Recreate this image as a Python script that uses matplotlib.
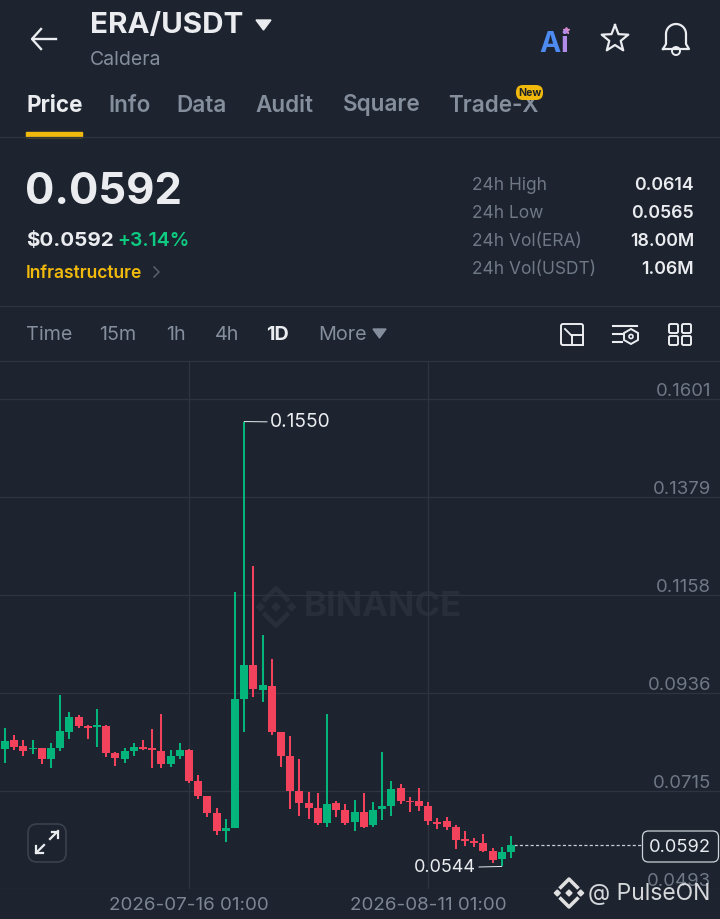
import numpy as np
import matplotlib
matplotlib.use("Agg")
import matplotlib.pyplot as plt
from matplotlib.patches import FancyBboxPatch, Polygon, Rectangle, Circle

plt.rcParams["font.family"] = ["Inter", "DejaVu Sans"]

# daily candles
opens = [.0809, .0830, .0817, .0809, .0812, .0787, .0812, .0848, .0883, .0861,
         .0860, .0861, .0801, .0788, .0806, .0814, .0812, .0805, .0776, .0794,
         .0808, .0738, .0704, .0665, .0625, .0632, .0923, .1000, .0943, .0953,
         .0847, .0794, .0714, .0688, .0677, .0642, .0687, .0672, .0644, .0667,
         .0637, .0674, .0681, .0721, .0692, .0691, .0680, .0644, .0646, .0634,
         .0606, .0602, .0597, .0580, .0561, .0576]
highs = [.0857, .0842, .0830, .0829, .0812, .0823, .0932, .0893, .0887, .0864,
         .0900, .0864, .0802, .0811, .0824, .0830, .0854, .0889, .0808, .0824,
         .0809, .0750, .0704, .0676, .0652, .1165, .1550, .1224, .1068, .1013,
         .0848, .0838, .0787, .0712, .0710, .0888, .0692, .0685, .0695, .0711,
         .0689, .0802, .0738, .0731, .0701, .0722, .0689, .0653, .0656, .0637,
         .0625, .0609, .0618, .0586, .0588, .0613]
lows = [.0779, .0808, .0794, .0798, .0776, .0767, .0804, .0833, .0857, .0832,
        .0815, .0792, .0772, .0779, .0793, .0807, .0766, .0766, .0770, .0787,
        .0732, .0696, .0656, .0615, .0600, .0631, .0847, .0928, .0915, .0841,
        .0770, .0674, .0659, .0651, .0637, .0634, .0656, .0638, .0625, .0631,
        .0634, .0649, .0659, .0686, .0666, .0670, .0638, .0629, .0627, .0584,
        .0591, .0589, .0576, .0552, .0544, .0564]
closes = [.0827, .0814, .0806, .0812, .0787, .0812, .0850, .0882, .0862, .0858,
          .0863, .0801, .0789, .0805, .0814, .0810, .0808, .0776, .0794, .0808,
          .0738, .0704, .0665, .0625, .0631, .0923, .1000, .0945, .0955, .0847,
          .0793, .0714, .0687, .0677, .0642, .0686, .0672, .0643, .0667, .0634,
          .0672, .0681, .0720, .0692, .0689, .0680, .0646, .0640, .0634, .0604,
          .0601, .0597, .0580, .0559, .0576, .0592]

price_ticks = [0.1601, 0.1379, 0.1158, 0.0936, 0.0715, 0.0493]
date_ticks = [20, 46]
date_labels = ["2026-07-16 01:00", "2026-08-11 01:00"]
tabs = ["Price", "Info", "Data", "Audit", "Square", "Trade-X"]
tab_x = [26, 108, 176, 255, 343, 448]
intervals = ["Time", "15m", "1h", "4h", "1D", "More"]
interval_x = [26, 99, 166, 215, 266, 318]
stat_names = ["24h High", "24h Low", "24h Vol(ERA)", "24h Vol(USDT)"]
stat_values = ["0.0614", "0.0565", "18.00M", "1.06M"]
stat_y = [186, 214, 242, 270]

BG = "#1d2430"
GRID = "#2e3540"
GREY = "#848e9c"
WHITE = "#eaecef"
GREEN = "#03b57a"
RED = "#f2425c"
YELLOW = "#f0b90b"

fig = plt.figure(figsize=(7.2, 9.19), dpi=100, facecolor=BG)


def pixel_axes(z):
    a = fig.add_axes([0, 0, 1, 1], zorder=z)
    a.set_xlim(0, 720)
    a.set_ylim(919, 0)
    a.axis("off")
    return a


def bnb_logo(a, cx, cy, size, color):
    # centre, side dots and the two chevrons
    d = size * 0.2
    for dx, dy in [(0, 0), (-size * 0.78, 0), (size * 0.78, 0)]:
        a.add_patch(Polygon([(cx + dx, cy + dy - d), (cx + dx + d, cy + dy),
                             (cx + dx, cy + dy + d), (cx + dx - d, cy + dy)], color=color))
    w = size * 0.55
    for sign in [-1, 1]:
        a.plot([cx - w, cx, cx + w],
               [cy + sign * size * 0.38, cy + sign * (size * 0.38 + w), cy + sign * size * 0.38],
               color=color, lw=size * 0.17)


back = pixel_axes(0)
top = pixel_axes(2)

# chart area, gridlines come from the ticks
ax = fig.add_axes([0, (919 - 889) / 919, 1, (889 - 361) / 919], zorder=1)
ax.patch.set_alpha(0)
step = 9.2
ax.set_xlim(-5 / step, 715 / step)
per_px = (0.1601 - 0.0493) / 490
ax.set_ylim(0.0493, 0.1601 + 38 * per_px)
for s in ax.spines.values():
    s.set_visible(False)
ax.set_yticks(price_ticks)
ax.set_yticklabels([])
ax.set_xticks(date_ticks)
ax.set_xticklabels(date_labels, color="#7d8694", fontsize=13.5)
ax.tick_params(length=0)
ax.tick_params(axis="x", pad=6)
ax.grid(True, color=GRID, lw=0.9)
ax.set_axisbelow(True)

for v in price_ticks:
    ax.annotate(f"{v:.4f}", (1, v), xycoords=ax.get_yaxis_transform(),
                xytext=(-6.5, -0.8), textcoords="offset points", ha="right",
                va="bottom", color="#6f7885", fontsize=13.4)

x = np.arange(len(opens))
o = np.array(opens)
c = np.array(closes)
colors = [GREEN if b >= a else RED for a, b in zip(o, c)]
ax.vlines(x, lows, highs, colors=colors, lw=1.45, zorder=3)
ax.bar(x, np.abs(c - o), bottom=np.minimum(o, c), width=0.85, color=colors, zorder=4)

# high / low / last markers
hi = int(np.argmax(highs))
lo = int(np.argmin(lows))
ax.annotate(f"{highs[hi]:.4f}", (x[hi], highs[hi]), xytext=(18.5, -0.5),
            textcoords="offset points", va="center", color=WHITE, fontsize=13.8,
            arrowprops=dict(arrowstyle="-", color=WHITE, lw=0.7, shrinkA=0, shrinkB=0))
ax.annotate(f"{lows[lo]:.4f}", (x[lo], lows[lo]), xytext=(-18.5, -1),
            textcoords="offset points", va="center", ha="right", color=WHITE, fontsize=13,
            arrowprops=dict(arrowstyle="-", color=WHITE, lw=0.7, shrinkA=0, shrinkB=0))
ax.plot([x[-1] + 0.3, 69.2], [closes[-1], closes[-1]], color="#c9ced6", lw=0.9,
        dashes=(2.5, 1.8), zorder=2)

# watermark
back.text(304, 607, "BINANCE", color="#282f3b", fontsize=25, fontweight="bold", va="center")
bnb_logo(back, 276, 607, 20, "#282f3b")

# header
back.plot([33, 56], [39, 39], color=WHITE, lw=1.7)
back.plot([41, 32, 41], [29, 39, 49], color=WHITE, lw=1.7)
back.text(90, 26, "ERA/USDT", color=WHITE, fontsize=21.3, fontweight="bold", va="center")
back.add_patch(Polygon([(256, 20), (271, 20), (263.5, 30)], color=WHITE))
back.text(90, 60, "Caldera", color=GREY, fontsize=14, va="center")
back.text(539, 45, "A", color="#4d8bf0", fontsize=20.5, fontweight="bold", va="center")
back.text(560, 45, "i", color="#b18be8", fontsize=20.5, fontweight="bold", va="center")
back.plot([566], [30], marker="*", ms=5, color="#d58ad0")

r = np.array([14, 6] * 5 + [14])
t = np.deg2rad(-90 + 36 * np.arange(11))
back.plot(615 + r * np.cos(t), 39 + r * np.sin(t), color=WHITE, lw=1.6)

bt = np.linspace(np.pi, 0, 30)
bell_x = np.r_[663, 666, 666 + 10 * (1 + np.cos(bt)), 686, 689, 663]
bell_y = np.r_[49, 44, 34 + 10 * -np.sin(bt), 44, 49, 49]
back.plot(bell_x, bell_y, color=WHITE, lw=1.6)
back.add_patch(Circle((676, 51), 4, fill=False, ec=WHITE, lw=1.4))

for i, (name, px) in enumerate(zip(tabs, tab_x)):
    back.text(px, 105.5, name, color=WHITE if i == 0 else GREY, fontsize=16.2,
              fontweight="bold" if i == 0 else "semibold", va="center")
back.add_patch(Rectangle((26, 131.5), 56, 5, color=YELLOW))
back.add_patch(FancyBboxPatch((516, 85), 27, 15, boxstyle="round,pad=0,rounding_size=7",
                              color=YELLOW, lw=0, zorder=3))
back.text(529.5, 92.5, "New", color="#1e2329", fontsize=7.6, fontweight="bold",
          ha="center", va="center", zorder=4)

for yy in [137, 306, 361]:
    back.plot([0, 720], [yy, yy], color=GRID, lw=0.9)

# price block
back.text(25, 193, "0.0592", color=WHITE, fontsize=31.4, fontweight="bold", va="center")
back.text(26, 241, "$0.0592", color=WHITE, fontsize=14.8, fontweight="bold", va="center")
back.text(117, 241, "+3.14%", color="#0ecb81", fontsize=14, fontweight="semibold", va="center")
back.text(26, 273, "Infrastructure", color=YELLOW, fontsize=12.6, fontweight="semibold", va="center")
back.plot([154, 159, 154], [267, 272, 277], color="#5d6673", lw=1)
for name, val, yy in zip(stat_names, stat_values, stat_y):
    back.text(472, yy, name, color="#6f7885", fontsize=12.5, va="center")
    back.text(694, yy, val, color=WHITE, fontsize=12.8, fontweight="semibold", ha="right", va="center")

# interval row
for name, px in zip(intervals, interval_x):
    back.text(px, 335.5, name, color=WHITE if name == "1D" else GREY, fontsize=14.2,
              fontweight="bold" if name == "1D" else "normal", va="center")
back.add_patch(Polygon([(373, 329), (386, 329), (379.5, 338)], color=GREY))

# toolbar icons
back.add_patch(FancyBboxPatch((561, 324), 22, 21, boxstyle="round,pad=0,rounding_size=2",
                              fill=False, ec=WHITE, lw=1.4))
back.add_patch(Rectangle((572, 335), 11, 10, fc=BG, ec=WHITE, lw=1.4))
back.plot([565, 572], [329, 336], color=WHITE, lw=1.3)
back.plot([613, 637], [326, 326], color=WHITE, lw=1.5)
back.plot([613, 622], [334, 334], color=WHITE, lw=1.5)
back.plot([613, 622], [342, 342], color=WHITE, lw=1.5)
back.add_patch(Polygon([(631, 329), (638, 333), (638, 340), (631, 344), (624, 340), (624, 333)],
                       fill=False, ec=WHITE, lw=1.4))
back.add_patch(Circle((631, 336.5), 2, fill=False, ec=WHITE, lw=1.2))
for bx in [669, 682]:
    for by in [324, 336]:
        back.add_patch(FancyBboxPatch((bx, by), 9, 9, boxstyle="round,pad=0,rounding_size=1.5",
                                      fill=False, ec=WHITE, lw=1.4))

# overlays on the chart
top.add_patch(FancyBboxPatch((28, 824), 38, 38, boxstyle="round,pad=0,rounding_size=9",
                             fc=BG, ec="#3a424e", lw=1.2))
top.plot([36, 44], [853, 845], color=WHITE, lw=1.6)
top.plot([50, 58], [839, 831], color=WHITE, lw=1.6)
top.plot([36, 36, 43], [846, 853, 853], color=WHITE, lw=1.6)
top.plot([52, 58, 58], [832, 832, 838], color=WHITE, lw=1.6)

top.add_patch(FancyBboxPatch((642.5, 831), 76, 31, boxstyle="round,pad=0,rounding_size=6",
                             fc=BG, ec="#cfd3d9", lw=0.9))
top.text(711, 848, f"{closes[-1]:.4f}", color=WHITE, fontsize=13.2, ha="right", va="center")

bnb_logo(top, 569, 893, 15, "#e0e0e0")
top.text(588, 894, "@ PulseON", color="#d5d7da", fontsize=16.5, va="center")

fig.savefig("out.png", dpi=100, facecolor=BG)
